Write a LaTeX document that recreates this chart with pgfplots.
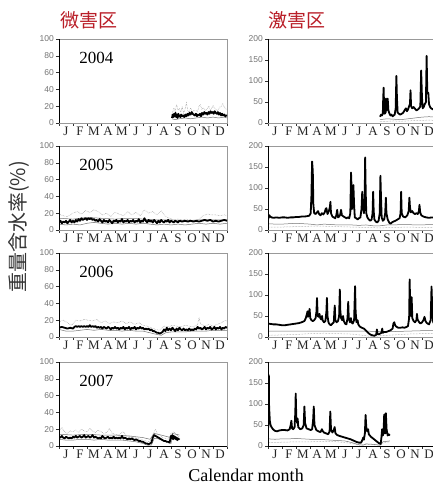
\documentclass[border=0pt]{standalone}
\usepackage{pgfplots}
\pgfplotsset{compat=1.18}
\usepackage{fontspec}
\setmainfont{Liberation Serif}
\newfontfamily\cjk{Noto Sans CJK JP}
\newfontfamily\tickfont{Liberation Sans}
\definecolor{titlered}{RGB}{185,30,40}
\pgfplotsset{
  panel/.style={
    scale only axis, width=168pt, height=84pt, anchor=south west,
    xmin=0, xmax=12, ymin=0,
    xtick={0,1,...,12},
    xticklabels={J,F,M,A,M,J,J,A,S,O,N,D,{}},
    xticklabel style={xshift=7pt, font=\fontsize{13}{13}\selectfont, text=black!85, inner sep=1pt},
    yticklabel style={font=\tickfont\fontsize{8.5}{9}\selectfont, text=black!55, inner sep=2pt},
    /pgf/number format/assume math mode=true,
    tick align=outside, major tick length=3pt,
    tick style={black!80, line width=0.5pt},
    axis line style={black!40},
    ytick pos=left, xtick pos=bottom,
  },
  mainl/.style={black, line width=1.8pt, line join=round},
  thinl/.style={black!55, line width=0.5pt},
  dotl/.style={black!45, line width=0.5pt, densely dotted},
}
\begin{document}
\begin{tikzpicture}
% ---------------- 2004 left
\begin{axis}[panel, at={(59pt,365pt)}, ymax=100, ytick={0,20,...,100}]
\addplot[dotl] coordinates {(8.07,10)(8.2,18)(8.3,14)(8.4,22)(8.5,15)(8.6,17)(8.7,13)(8.8,20)(8.9,12)(9.0,16)(9.1,24)(9.2,15)(9.3,13)(9.4,18)(9.5,14)(9.7,15)(9.9,14)(10.0,20)(10.1,22)(10.2,16)(10.3,18)(10.5,15)(10.7,20)(10.8,16)(10.9,17)(11.0,21)(11.1,18)(11.3,15)(11.5,19)(11.6,20)(11.7,23)(11.8,19)(11.9,17)(12,16)};
\addplot[thinl] coordinates {(8.07,5)(8.3,4)(8.6,5)(9.0,6)(9.4,5)(9.8,6)(10.2,7)(10.6,6)(11.0,7)(11.4,6)(11.8,7)(12,6)};
\addplot[mainl] coordinates {(8.07,6)(8.12,10)(8.17,7)(8.22,11)(8.27,8)(8.32,12)(8.37,7)(8.42,10)(8.47,6)(8.52,11)(8.57,8)(8.62,9)(8.67,7)(8.72,10)(8.8,8)(8.88,9)(8.95,7)(9.02,10)(9.1,8)(9.18,11)(9.25,9)(9.32,12)(9.4,10)(9.48,13)(9.55,11)(9.62,10)(9.7,9)(9.78,11)(9.85,8)(9.92,10)(10.0,9)(10.08,11)(10.15,8)(10.22,12)(10.3,10)(10.38,13)(10.45,11)(10.52,12)(10.6,10)(10.68,13)(10.75,11)(10.82,14)(10.9,12)(10.98,13)(11.05,11)(11.12,14)(11.2,12)(11.28,11)(11.35,13)(11.42,10)(11.5,12)(11.58,9)(11.65,11)(11.72,9)(11.8,10)(11.88,8)(11.95,9)(12.0,9)};
\node[anchor=west, font=\fontsize{17}{17}\selectfont] at (axis cs:1.2,77) {2004};
\draw[black, line width=0.6pt] (rel axis cs:0,1) -- (rel axis cs:0,0) -- (rel axis cs:1,0);
\end{axis}
% ---------------- 2004 right
\begin{axis}[panel, at={(268pt,365pt)}, ymax=200, ytick={0,50,...,200}]
\addplot[dotl] coordinates {(8.0,3)(8.5,4)(9.0,5)(9.5,4)(10,5)(10.5,6)(11,6)(11.5,7)(12,6)};
\addplot[thinl] coordinates {(8.0,8)(8.5,10)(9.0,9)(9.5,8)(10,10)(10.5,12)(11,14)(11.5,15)(12,14)};
\addplot[mainl] coordinates {(8.0,15)(8.08,20)(8.14,18)(8.2,22)(8.23,60)(8.26,84)(8.29,40)(8.33,22)(8.4,25)(8.43,58)(8.47,30)(8.52,45)(8.55,58)(8.6,30)(8.68,22)(8.75,18)(8.82,20)(8.9,16)(8.98,18)(9.05,20)(9.12,35)(9.17,112)(9.21,60)(9.26,25)(9.35,22)(9.45,20)(9.55,22)(9.65,24)(9.75,30)(9.85,35)(9.92,28)(10.0,32)(10.08,40)(10.14,45)(10.18,78)(10.22,40)(10.3,35)(10.4,38)(10.5,34)(10.6,30)(10.7,32)(10.8,35)(10.88,40)(10.94,125)(11.0,60)(11.05,35)(11.12,38)(11.2,45)(11.28,50)(11.33,160)(11.38,70)(11.45,72)(11.5,45)(11.58,38)(11.65,35)(11.75,33)(11.85,32)(12,30)};
\draw[black, line width=0.6pt] (rel axis cs:0,1) -- (rel axis cs:0,0) -- (rel axis cs:1,0);
\end{axis}
% ---------------- 2005 left
\begin{axis}[panel, at={(59pt,258pt)}, ymax=100, ytick={0,20,...,100}]
\addplot[dotl] coordinates {(0,19)(0.3,17)(0.6,16)(1.0,20)(1.3,22)(1.6,19)(1.9,23)(2.2,21)(2.5,24)(2.8,22)(3.1,18)(3.4,20)(3.7,16)(4.0,21)(4.3,19)(4.6,17)(4.9,22)(5.2,18)(5.5,21)(5.8,17)(6.1,24)(6.4,20)(6.7,22)(7.0,18)(7.3,23)(7.6,16)(7.9,14)(8.2,12)(8.5,13)(8.8,12)(9.1,13)(9.4,12)(9.7,11)(10.0,13)(10.3,17)(10.6,19)(10.9,18)(11.2,18)(11.5,17)(11.8,18)(12,17)};
\addplot[thinl] coordinates {(0,14)(1,13)(2,15)(3,14)(4,13)(5,14)(6,13)(7,12)(8,12)(9,11)(10,12)(11,12)(12,12)};
\addplot[thinl] coordinates {(0,7)(0.5,6)(1,7)(1.5,6)(2,8)(2.5,9)(3,8)(3.5,7)(4,8)(4.5,7)(5,8)(5.5,7)(6,8)(6.5,7)(7,6)(7.5,7)(8,6)(8.5,7)(9,6)(9.5,7)(10,8)(10.5,7)(11,8)(11.5,7)(12,8)};
\addplot[mainl] coordinates {(0.0,9)(0.1,11)(0.2,8)(0.3,10)(0.4,9)(0.5,11)(0.6,8)(0.7,10)(0.8,12)(0.9,9)(1.0,11)(1.1,9)(1.2,12)(1.3,10)(1.4,13)(1.5,11)(1.6,14)(1.7,12)(1.8,13)(1.9,14)(2.0,12)(2.1,14)(2.2,13)(2.3,14)(2.4,12)(2.5,13)(2.6,11)(2.7,12)(2.8,10)(2.9,13)(3.0,11)(3.1,9)(3.2,12)(3.3,10)(3.4,11)(3.5,9)(3.6,12)(3.7,10)(3.8,8)(3.9,11)(4.0,10)(4.1,12)(4.2,9)(4.3,11)(4.4,10)(4.5,13)(4.6,9)(4.7,11)(4.8,10)(4.9,12)(5.0,9)(5.1,11)(5.2,10)(5.3,12)(5.4,9)(5.5,11)(5.6,10)(5.7,13)(5.8,9)(5.9,11)(6.0,10)(6.1,14)(6.2,11)(6.3,9)(6.4,12)(6.5,10)(6.6,11)(6.7,9)(6.8,12)(6.9,10)(7.0,8)(7.1,11)(7.2,9)(7.3,12)(7.4,10)(7.5,9)(7.6,11)(7.7,10)(7.8,12)(7.9,9)(8.0,11)(8.1,10)(8.2,9)(8.3,11)(8.4,10)(8.5,9)(8.6,11)(8.8,10)(9.0,11)(9.2,10)(9.4,11)(9.6,10)(9.8,11)(10.0,10)(10.2,11)(10.4,12)(10.6,11)(10.8,12)(11.0,10)(11.2,11)(11.4,10)(11.6,11)(11.8,12)(12,11)};
\node[anchor=west, font=\fontsize{17}{17}\selectfont] at (axis cs:1.2,77) {2005};
\draw[black, line width=0.6pt] (rel axis cs:0,1) -- (rel axis cs:0,0) -- (rel axis cs:1,0);
\end{axis}
% ---------------- 2005 right
\begin{axis}[panel, at={(268pt,258pt)}, ymax=200, ytick={0,50,...,200}]
\addplot[dotl] coordinates {(0,7)(1,7)(2,8)(3,9)(4,9)(5,8)(6,7)(7,6)(8,5)(9,6)(10,7)(11,6)(12,6)};
\addplot[thinl] coordinates {(0,15)(0.5,14)(1,14)(1.5,15)(2,16)(2.5,15)(3,14)(3.5,12)(4,14)(4.5,13)(5,12)(5.5,12)(6,12)(6.5,11)(7,12)(7.5,10)(8,10)(8.5,12)(9,12)(9.5,13)(10,13)(10.5,12)(11,12)(11.5,13)(12,13)};
\addplot[mainl] coordinates {(0.0,25)(0.05,30)(0.1,35)(0.15,32)(0.25,30)(0.4,29)(0.6,30)(0.8,29)(1.0,30)(1.2,30)(1.4,29)(1.6,30)(1.8,30)(2.0,31)(2.2,31)(2.4,32)(2.6,32)(2.8,33)(2.95,34)(3.05,40)(3.1,80)(3.15,163)(3.2,140)(3.24,60)(3.3,40)(3.4,38)(3.5,42)(3.57,45)(3.65,38)(3.75,35)(3.85,40)(3.95,37)(4.05,42)(4.12,50)(4.17,52)(4.25,38)(4.35,45)(4.42,55)(4.46,67)(4.5,40)(4.6,32)(4.7,30)(4.8,28)(4.88,35)(4.94,48)(5.0,30)(5.08,32)(5.15,36)(5.22,48)(5.28,35)(5.4,32)(5.5,30)(5.6,28)(5.7,30)(5.8,28)(5.88,40)(5.93,137)(5.97,100)(6.0,50)(6.05,60)(6.1,107)(6.15,60)(6.2,30)(6.3,28)(6.4,25)(6.5,28)(6.6,30)(6.68,50)(6.73,91)(6.78,60)(6.85,40)(6.9,60)(6.94,173)(6.98,90)(7.02,40)(7.1,30)(7.2,25)(7.3,22)(7.4,25)(7.47,40)(7.51,91)(7.55,45)(7.6,25)(7.7,20)(7.8,18)(7.9,22)(7.98,40)(8.03,129)(8.07,80)(8.12,30)(8.2,22)(8.3,25)(8.37,40)(8.42,77)(8.46,40)(8.55,25)(8.65,18)(8.75,15)(8.85,18)(8.95,20)(9.1,22)(9.25,25)(9.4,28)(9.47,40)(9.51,91)(9.55,40)(9.65,32)(9.8,30)(9.95,35)(10.05,45)(10.1,77)(10.14,55)(10.2,42)(10.3,45)(10.4,40)(10.5,38)(10.6,40)(10.7,38)(10.78,45)(10.82,60)(10.87,42)(10.95,35)(11.1,32)(11.3,30)(11.5,29)(11.7,30)(11.9,29)(12,30)};
\draw[black, line width=0.6pt] (rel axis cs:0,1) -- (rel axis cs:0,0) -- (rel axis cs:1,0);
\end{axis}
% ---------------- 2006 left
\begin{axis}[panel, at={(59pt,151pt)}, ymax=100, ytick={0,20,...,100}]
\addplot[dotl] coordinates {(0,18)(0.3,20)(0.6,17)(0.9,14)(1.2,20)(1.5,19)(1.8,21)(2.1,20)(2.4,19)(2.7,21)(3.0,17)(3.3,19)(3.6,16)(3.9,18)(4.2,17)(4.5,19)(4.8,16)(5.1,18)(5.4,15)(5.7,17)(6.0,14)(6.3,13)(6.6,11)(6.9,9)(7.2,8)(7.5,13)(7.8,12)(8.1,14)(8.4,13)(8.7,12)(9.0,14)(9.3,13)(9.6,12)(9.9,15)(10.0,23)(10.1,16)(10.4,13)(10.7,15)(11.0,13)(11.3,15)(11.6,17)(11.9,20)(12,18)};
\addplot[thinl] coordinates {(0,9)(0.5,7)(1,7)(1.5,8)(2,9)(2.5,8)(3,9)(3.5,8)(4,8)(4.5,7)(5,8)(5.5,7)(6,7)(6.5,5)(7,3)(7.3,2)(7.6,5)(8,6)(8.5,6)(9,6)(9.5,7)(10,7)(10.5,7)(11,8)(11.5,8)(12,8)};
\addplot[mainl] coordinates {(0,11)(0.2,12)(0.4,11)(0.6,10)(0.8,11)(1.0,10)(1.1,12)(1.2,13)(1.3,12)(1.4,13)(1.5,12)(1.6,13)(1.7,12)(1.8,13)(1.9,12)(2.0,13)(2.1,12)(2.2,14)(2.3,12)(2.4,13)(2.5,12)(2.6,13)(2.7,11)(2.8,12)(2.9,11)(3.0,12)(3.1,10)(3.2,12)(3.3,11)(3.4,10)(3.5,12)(3.6,11)(3.7,9)(3.8,11)(3.9,10)(4.0,12)(4.1,10)(4.2,11)(4.3,9)(4.4,11)(4.5,10)(4.6,12)(4.7,9)(4.8,11)(4.9,10)(5.0,12)(5.1,9)(5.2,11)(5.3,10)(5.4,12)(5.5,9)(5.6,11)(5.7,10)(5.8,12)(5.9,10)(6.0,11)(6.1,9)(6.2,10)(6.3,9)(6.4,10)(6.5,8)(6.6,9)(6.7,7)(6.8,7)(6.9,6)(7.0,5)(7.1,5)(7.2,4)(7.3,5)(7.4,6)(7.5,9)(7.6,7)(7.7,11)(7.8,8)(7.9,10)(8.0,8)(8.1,11)(8.2,9)(8.3,7)(8.4,10)(8.5,8)(8.6,11)(8.7,9)(8.8,8)(8.9,10)(9.0,8)(9.1,9)(9.2,8)(9.3,10)(9.4,8)(9.5,9)(9.6,8)(9.7,10)(9.8,9)(9.9,12)(10.0,10)(10.1,11)(10.2,9)(10.3,10)(10.4,12)(10.5,9)(10.6,11)(10.7,10)(10.8,12)(10.9,9)(11.0,10)(11.1,12)(11.2,9)(11.3,11)(11.4,10)(11.5,12)(11.6,9)(11.7,11)(11.8,10)(11.9,12)(12,11)};
\node[anchor=west, font=\fontsize{17}{17}\selectfont] at (axis cs:1.2,77) {2006};
\draw[black, line width=0.6pt] (rel axis cs:0,1) -- (rel axis cs:0,0) -- (rel axis cs:1,0);
\end{axis}
% ---------------- 2006 right
\begin{axis}[panel, at={(268pt,151pt)}, ymax=200, ytick={0,50,...,200}]
\addplot[dotl] coordinates {(0,4)(1,5)(2,6)(3,8)(4,9)(5,8)(6,7)(7,3)(7.5,1)(8,3)(9,5)(10,7)(11,8)(12,8)};
\addplot[thinl] coordinates {(0,14)(1,14)(2,14)(3,14)(4,14)(5,14)(6,14)(7,14)(8,13)(9,13)(10,14)(11,15)(12,15)};
\addplot[mainl] coordinates {(0.0,32)(0.2,31)(0.4,30)(0.6,30)(0.8,29)(1.0,28)(1.2,28)(1.4,29)(1.6,30)(1.8,31)(2.0,32)(2.2,33)(2.4,35)(2.6,38)(2.7,45)(2.78,55)(2.82,61)(2.86,48)(2.92,55)(2.97,67)(3.02,45)(3.1,40)(3.2,38)(3.3,40)(3.4,45)(3.46,60)(3.5,93)(3.55,50)(3.62,48)(3.68,55)(3.73,45)(3.8,42)(3.86,50)(3.9,40)(4.0,35)(4.1,38)(4.17,60)(4.21,93)(4.25,50)(4.32,35)(4.4,30)(4.5,28)(4.6,32)(4.7,35)(4.74,60)(4.77,75)(4.81,40)(4.9,35)(5.0,38)(5.08,50)(5.13,113)(5.17,60)(5.22,45)(5.3,40)(5.36,50)(5.42,38)(5.5,32)(5.6,30)(5.68,45)(5.73,84)(5.77,45)(5.85,35)(5.92,45)(5.97,35)(6.05,32)(6.15,40)(6.22,121)(6.26,60)(6.32,35)(6.4,40)(6.45,30)(6.55,25)(6.7,22)(6.85,20)(7.0,15)(7.15,10)(7.3,6)(7.45,4)(7.6,3)(7.72,5)(7.78,18)(7.82,8)(7.9,6)(8.0,8)(8.1,10)(8.16,20)(8.2,10)(8.3,12)(8.45,12)(8.6,14)(8.75,16)(8.9,20)(8.96,32)(9.02,35)(9.08,28)(9.15,25)(9.3,22)(9.45,22)(9.6,23)(9.75,22)(9.9,24)(10.0,26)(10.08,45)(10.12,137)(10.16,60)(10.22,50)(10.26,95)(10.31,45)(10.4,38)(10.5,35)(10.6,40)(10.64,55)(10.68,42)(10.8,35)(10.9,32)(11.0,35)(11.1,40)(11.18,48)(11.25,38)(11.35,33)(11.5,30)(11.62,40)(11.68,120)(11.74,60)(11.8,35)(11.9,30)(12,30)};
\draw[black, line width=0.6pt] (rel axis cs:0,1) -- (rel axis cs:0,0) -- (rel axis cs:1,0);
\end{axis}
% ---------------- 2007 left
\begin{axis}[panel, at={(59pt,42pt)}, ymax=100, ytick={0,20,...,100}]
\addplot[dotl] coordinates {(0,18)(0.2,22)(0.4,17)(0.6,15)(0.8,18)(1.0,17)(1.2,19)(1.4,16)(1.6,20)(1.8,18)(2.0,17)(2.2,21)(2.4,18)(2.6,16)(2.8,19)(3.0,17)(3.2,15)(3.4,16)(3.6,21)(3.8,15)(4.0,14)(4.2,13)(4.4,15)(4.6,17)(4.8,12)(5.0,11)(5.4,10)(5.8,8)(6.2,6)(6.5,5)(6.7,14)(6.9,20)(7.0,15)(7.4,10)(7.8,8)(8.0,15)(8.2,17)(8.4,13)(8.6,11)};
\addplot[thinl] coordinates {(0,14)(1,13)(2,14)(3,13)(4,13)(5,12)(6,10)(6.5,8)(6.8,15)(7.3,13)(8.0,10)(8.1,15)(8.6,13)};
\addplot[thinl] coordinates {(0,8)(0.5,7)(1,7)(1.5,8)(2,8)(2.5,7)(3,8)(3.5,7)(4,7)(4.5,7)(5,6)(5.5,5)(6,3)(6.3,1)(6.6,1)(6.8,9)(7.0,9)(7.5,6)(8.0,3)(8.1,11)(8.3,10)(8.6,8)};
\addplot[mainl] coordinates {(0,11)(0.1,10)(0.2,12)(0.3,10)(0.4,9)(0.5,11)(0.6,10)(0.7,9)(0.8,10)(0.9,9)(1.0,11)(1.1,10)(1.2,12)(1.3,10)(1.4,11)(1.5,12)(1.6,10)(1.7,11)(1.8,13)(1.9,10)(2.0,11)(2.1,12)(2.2,10)(2.3,11)(2.4,13)(2.5,10)(2.6,11)(2.7,10)(2.8,9)(2.9,10)(3.0,9)(3.1,12)(3.2,10)(3.3,9)(3.4,10)(3.5,11)(3.6,9)(3.7,10)(3.8,9)(3.9,11)(4.0,9)(4.1,10)(4.2,9)(4.3,10)(4.4,9)(4.5,12)(4.6,9)(4.7,10)(4.8,9)(4.9,8)(5.0,9)(5.1,8)(5.2,9)(5.3,8)(5.4,7)(5.5,8)(5.6,7)(5.7,6)(5.8,6)(5.9,5)(6.0,5)(6.1,4)(6.2,3)(6.3,3)(6.4,2)(6.5,3)(6.6,4)(6.7,10)(6.8,13)(6.9,12)(7.0,11)(7.1,10)(7.2,9)(7.3,8)(7.4,7)(7.5,6)(7.6,6)(7.7,5)(7.8,5)(7.9,4)(8.0,12)(8.05,9)(8.1,13)(8.15,8)(8.2,12)(8.25,9)(8.3,11)(8.35,8)(8.4,10)(8.45,7)(8.5,9)(8.55,8)(8.6,9)};
\node[anchor=west, font=\fontsize{17}{17}\selectfont] at (axis cs:1.2,77) {2007};
\draw[black, line width=0.6pt] (rel axis cs:0,1) -- (rel axis cs:0,0) -- (rel axis cs:1,0);
\end{axis}
% ---------------- 2007 right
\begin{axis}[panel, at={(268pt,42pt)}, ymax=200, ytick={0,50,...,200}]
\addplot[dotl] coordinates {(0,8)(1,9)(2,10)(3,10)(4,11)(5,10)(6,6)(6.5,2)(7,4)(8,2)(8.3,8)(8.7,10)};
\addplot[thinl] coordinates {(0,17)(0.5,16)(1,17)(1.5,17)(2,18)(2.5,17)(3,16)(3.5,16)(4,15)(4.5,14)(5,13)(5.5,12)(6,8)(6.5,3)(6.8,2)(7,5)(7.5,4)(8,2)(8.2,10)(8.7,12)};
\addplot[mainl] coordinates {(0.0,40)(0.02,50)(0.04,120)(0.06,169)(0.08,90)(0.1,80)(0.13,60)(0.18,50)(0.25,45)(0.35,40)(0.5,36)(0.65,35)(0.8,37)(1.0,38)(1.2,38)(1.4,37)(1.55,40)(1.62,50)(1.67,60)(1.72,42)(1.8,40)(1.9,45)(1.95,80)(1.98,125)(2.02,70)(2.08,55)(2.12,65)(2.16,45)(2.3,40)(2.45,42)(2.55,50)(2.6,94)(2.65,55)(2.75,42)(2.9,40)(3.05,38)(3.15,40)(3.22,60)(3.27,94)(3.32,50)(3.45,38)(3.6,35)(3.75,33)(3.85,40)(3.9,36)(4.0,32)(4.15,30)(4.3,28)(4.4,35)(4.45,82)(4.5,40)(4.6,32)(4.7,38)(4.76,45)(4.82,30)(4.95,26)(5.1,24)(5.3,22)(5.5,20)(5.7,18)(5.9,16)(6.1,13)(6.3,10)(6.5,8)(6.65,8)(6.75,15)(6.8,20)(6.85,15)(6.92,30)(6.97,74)(7.02,45)(7.08,35)(7.15,40)(7.2,28)(7.35,22)(7.5,18)(7.65,14)(7.8,10)(7.95,6)(8.05,5)(8.1,20)(8.15,40)(8.2,25)(8.25,30)(8.3,75)(8.34,60)(8.38,30)(8.42,78)(8.47,40)(8.55,25)(8.62,28)(8.7,25)};
\draw[black, line width=0.6pt] (rel axis cs:0,1) -- (rel axis cs:0,0) -- (rel axis cs:1,0);
\end{axis}
% ---------------- titles and labels
\node[text=titlered, font=\cjk\fontsize{19}{19}\selectfont] at (89pt,468pt) {微害区};
\node[text=titlered, font=\cjk\fontsize{19}{19}\selectfont] at (297pt,468pt) {激害区};
\node[rotate=90, text=black!80, font=\cjk\fontsize{20}{20}\selectfont] at (19pt,261pt) {重量含水率(\%)};
\node[font=\fontsize{18}{18}\selectfont] at (246pt,13pt) {Calendar month};
\pgfresetboundingbox
\useasboundingbox (0,0) rectangle (433pt,488pt);
\end{tikzpicture}
\end{document}
